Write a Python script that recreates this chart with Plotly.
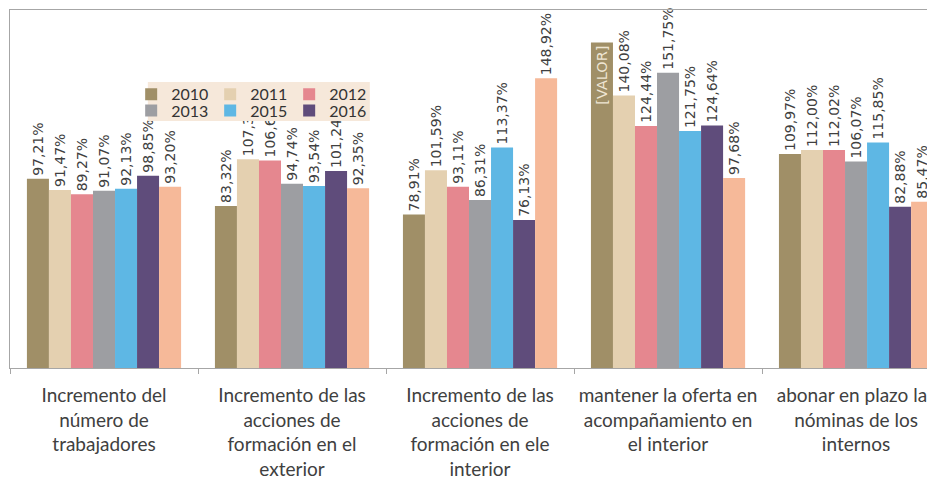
import plotly.graph_objects as go

categories = [
    "Incremento del<br>número de<br>trabajadores",
    "Incremento de las<br>acciones de<br>formación en el<br>exterior",
    "Incremento de las<br>acciones de<br>formación en ele<br>interior",
    "mantener la oferta en<br>acompañamiento en<br>el interior",
    "abonar en plazo las<br>nóminas de los<br>internos",
]

years = ["2010", "2011", "2012", "2013", "2015", "2016", "2017"]

v2010 = [97.21, 83.32, 78.91, 167.30, 109.97]
v2011 = [91.47, 107.30, 101.59, 140.08, 112.00]
v2012 = [89.27, 106.65, 93.11, 124.44, 112.02]
v2013 = [91.07, 94.74, 86.31, 151.75, 106.07]
v2015 = [92.13, 93.54, 113.37, 121.75, 115.85]
v2016 = [98.85, 101.24, 76.13, 124.64, 82.88]
v2017 = [93.20, 92.35, 148.92, 97.68, 85.47]

series = [v2010, v2011, v2012, v2013, v2015, v2016, v2017]
colors = ["#a08f67", "#e4d0b0", "#e5878f", "#9d9ea2", "#5eb7e4", "#5f4c7b", "#f6b999"]

LABEL_FONT = dict(family="DejaVu Sans", size=14, color="#404040")


def pct(v):
    return f"{v:.2f}".replace(".", ",") + "%"


fig = go.Figure()
for i, (year, vals, col) in enumerate(zip(years, series, colors)):
    text = [pct(v) for v in vals]
    pos = ["outside"] * len(vals)
    if year == "2010":
        # the 2010 bar of the fourth group carries a placeholder label inside
        text[3] = "[VALOR]"
        pos[3] = "inside"
    fig.add_trace(go.Bar(
        x=categories,
        y=vals,
        name=year,
        marker=dict(color=col, line=dict(width=0)),
        text=text,
        textposition=pos,
        textangle=-90,
        insidetextanchor="end",
        outsidetextfont=LABEL_FONT,
        insidetextfont=dict(family="DejaVu Sans", size=14.5, color="#efe6d4"),
        constraintext="none",
        cliponaxis=False,
        showlegend=year != "2017",
        legend="legend" if i < 3 else "legend2",
    ))

legend_common = dict(
    orientation="h",
    bgcolor="rgba(0,0,0,0)",
    font=dict(family="Lato", size=16, color="#333333"),
    entrywidth=34,
    entrywidthmode="pixels",
    xanchor="left",
    yanchor="top",
    itemclick=False,
    tracegroupgap=0,
)

# the page puts the figure 8px in from the top-left corner, so the figure
# is 8px smaller than the window to fill it exactly
fig.update_layout(
    width=927,
    height=476,
    margin=dict(l=2, r=0, t=2, b=116),
    plot_bgcolor="white",
    paper_bgcolor="white",
    barmode="group",
    bargap=0.18,
    bargroupgap=0,
    legend=dict(x=0.131, y=0.812, **legend_common),
    legend2=dict(x=0.131, y=0.7665, **legend_common),
    shapes=[dict(
        type="rect", xref="paper", yref="paper", layer="above",
        x0=0.149, x1=0.389, y0=0.690, y1=0.799,
        fillcolor="#f6e8da", line=dict(width=0),
    )],
    xaxis=dict(
        range=[-0.5, 4.42],
        showline=True,
        mirror=True,
        linecolor="#a6a6a6",
        linewidth=1,
        ticks="outside",
        tickson="boundaries",
        ticklen=5,
        tickcolor="#a6a6a6",
        ticklabelstandoff=10,
        tickfont=dict(family="Lato", size=19, color="#404040"),
    ),
    yaxis=dict(
        range=[0, 184],
        showline=True,
        linecolor="#a6a6a6",
        linewidth=1,
        showgrid=False,
        zeroline=False,
        showticklabels=False,
        ticks="",
    ),
)

fig.write_html("out.html")
